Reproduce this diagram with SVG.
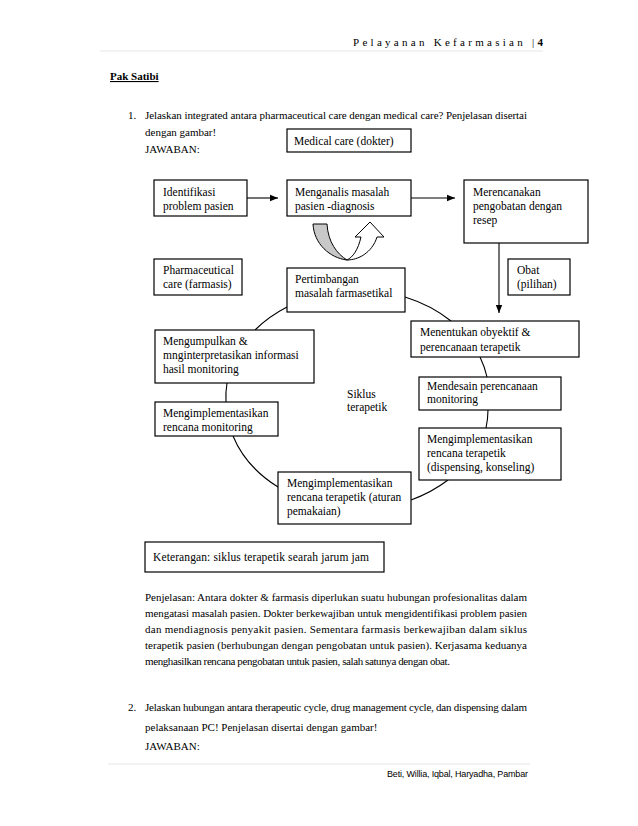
<svg xmlns="http://www.w3.org/2000/svg" width="638" height="826" viewBox="0 0 638 826">
<defs>
<style>
.t{font-family:"Liberation Serif","Times New Roman",serif;font-size:11px;fill:#000}
.b{font-family:"Liberation Serif","Times New Roman",serif;font-size:11.5px;fill:#000}
.box{fill:#fff;stroke:#000;stroke-width:1.2}
.ln{fill:none;stroke:#000;stroke-width:1.1}
.rule{stroke:#e6e6e6;stroke-width:1}
</style>
<marker id="ah" viewBox="0 0 8 8" refX="8" refY="4" markerWidth="8" markerHeight="8" markerUnits="userSpaceOnUse" orient="auto">
<path d="M0,0.8 L8,4 L0,7.2 Z" fill="#000"/>
</marker>
</defs>
<rect width="638" height="826" fill="#fff"/>

<g id="header">
<text class="t" x="353" y="46" textLength="190" lengthAdjust="spacing" fill="#222">Pelayanan Kefarmasian |<tspan font-weight="bold">4</tspan></text>
<line class="rule" x1="100" y1="51" x2="543" y2="51"/>
</g>

<g id="question1">
<text class="t" x="110" y="80" font-weight="bold" text-decoration="underline">Pak Satibi</text>
<text class="t" x="128" y="119">1.</text>
<text class="t" x="145" y="119" textLength="382" lengthAdjust="spacing">Jelaskan integrated antara pharmaceutical care dengan medical care? Penjelasan disertai</text>
<text class="t" x="145" y="136">dengan gambar!</text>
<text class="t" x="145" y="153">JAWABAN:</text>
</g>

<g id="connectors">
<line class="ln" x1="247" y1="198" x2="278" y2="198" marker-end="url(#ah)"/>
<line class="ln" x1="411" y1="198" x2="455" y2="198" marker-end="url(#ah)"/>
<line class="ln" x1="499" y1="243" x2="499" y2="313" marker-end="url(#ah)"/>
<path class="ln" d="M405,297 A134,107 0 0 1 451,321"/>
<path class="ln" d="M480,357 A134,107 0 0 1 487,377"/>
<path class="ln" d="M488,410 A134,107 0 0 1 486,428"/>
<path class="ln" d="M448,480 A134,107 0 0 1 411,500"/>
<path class="ln" d="M278,487 A134,107 0 0 1 233,436"/>
<path class="ln" d="M226,402 A134,107 0 0 1 227,383"/>
<path class="ln" d="M255,330 A134,107 0 0 1 287,307"/>
</g>

<g id="u-arrow">
<path d="M313,224 L327,224 C328,242 337,254 347,260 C330,258 314,244 313,224 Z" fill="#c8c8c8" stroke="#000" stroke-width="1"/>
<path d="M347,260 C358,260 372,253 377,237 L384,237 L370,222 L355,237 L361,237 C358,250 353,257 347,260 Z" fill="#fff" stroke="#000" stroke-width="1"/>
</g>

<g id="n-medical">
<rect class="box" x="287" y="129" width="124" height="23"/>
<text class="b" x="294" y="145">Medical care (dokter)</text>
</g>

<g id="n-identifikasi">
<rect class="box" x="154" y="180" width="93" height="36"/>
<text class="b" x="163" y="196">Identifikasi</text>
<text class="b" x="163" y="210">problem pasien</text>
</g>

<g id="n-menganalis">
<rect class="box" x="287" y="180" width="124" height="36"/>
<text class="b" x="295" y="196">Menganalis masalah</text>
<text class="b" x="295" y="210">pasien -diagnosis</text>
</g>

<g id="n-merencanakan">
<rect class="box" x="464" y="180" width="124" height="63"/>
<text class="b" x="473" y="196">Merencanakan</text>
<text class="b" x="473" y="210">pengobatan dengan</text>
<text class="b" x="473" y="224">resep</text>
</g>

<g id="n-pharmaceutical">
<rect class="box" x="154" y="259" width="88" height="36"/>
<text class="b" x="163" y="274">Pharmaceutical</text>
<text class="b" x="163" y="288">care (farmasis)</text>
</g>

<g id="n-obat">
<rect class="box" x="508" y="259" width="62" height="36"/>
<text class="b" x="517" y="274">Obat</text>
<text class="b" x="517" y="288">(pilihan)</text>
</g>

<g id="n-pertimbangan">
<rect class="box" x="287" y="268" width="118" height="44"/>
<text class="b" x="295" y="283">Pertimbangan</text>
<text class="b" x="295" y="297">masalah farmasetikal</text>
</g>

<g id="n-menentukan">
<rect class="box" x="411" y="321" width="168" height="36"/>
<text class="b" x="420" y="336">Menentukan obyektif &amp;</text>
<text class="b" x="420" y="351">perencanaan terapetik</text>
</g>

<g id="n-mengumpulkan">
<rect class="box" x="155" y="330" width="159" height="53"/>
<text class="b" x="163" y="345">Mengumpulkan &amp;</text>
<text class="b" x="163" y="359">mnginterpretasikan informasi</text>
<text class="b" x="163" y="373">hasil monitoring</text>
</g>

<g id="n-mendesain">
<rect class="box" x="419" y="377" width="142" height="33"/>
<text class="b" x="427" y="390">Mendesain perencanaan</text>
<text class="b" x="427" y="403">monitoring</text>
</g>

<g id="siklus-label">
<text class="b" x="347" y="398">Siklus</text>
<text class="b" x="347" y="411">terapetik</text>
</g>

<g id="n-impl-monitoring">
<rect class="box" x="155" y="402" width="123" height="34"/>
<text class="b" x="163" y="417">Mengimplementasikan</text>
<text class="b" x="163" y="431">rencana monitoring</text>
</g>

<g id="n-impl-dispensing">
<rect class="box" x="419" y="428" width="142" height="52"/>
<text class="b" x="427" y="443">Mengimplementasikan</text>
<text class="b" x="427" y="457">rencana terapetik</text>
<text class="b" x="427" y="471">(dispensing, konseling)</text>
</g>

<g id="n-impl-aturan">
<rect class="box" x="278" y="472" width="133" height="52"/>
<text class="b" x="287" y="487">Mengimplementasikan</text>
<text class="b" x="287" y="501">rencana terapetik (aturan</text>
<text class="b" x="287" y="515">pemakaian)</text>
</g>

<g id="n-keterangan">
<rect class="box" x="145" y="542" width="239" height="30"/>
<text class="b" x="153" y="561" textLength="216" lengthAdjust="spacing">Keterangan: siklus terapetik searah jarum jam</text>
</g>

<g id="penjelasan">
<text class="t" x="145" y="601" textLength="382" lengthAdjust="spacing">Penjelasan: Antara dokter &amp; farmasis diperlukan suatu hubungan profesionalitas dalam</text>
<text class="t" x="145" y="617" textLength="382" lengthAdjust="spacing">mengatasi masalah pasien. Dokter berkewajiban untuk mengidentifikasi problem pasien</text>
<text class="t" x="145" y="633" textLength="382" lengthAdjust="spacing">dan mendiagnosis penyakit pasien. Sementara farmasis berkewajiban dalam siklus</text>
<text class="t" x="145" y="649" textLength="382" lengthAdjust="spacing">terapetik pasien (berhubungan dengan pengobatan untuk pasien). Kerjasama keduanya</text>
<text class="t" x="145" y="665" textLength="305" lengthAdjust="spacing">menghasilkan rencana pengobatan untuk pasien, salah satunya dengan obat.</text>
</g>

<g id="question2">
<text class="t" x="128" y="711">2.</text>
<text class="t" x="145" y="711" textLength="382" lengthAdjust="spacing">Jelaskan hubungan antara therapeutic cycle, drug management cycle, dan dispensing dalam</text>
<text class="t" x="145" y="731">pelaksanaan PC! Penjelasan disertai dengan gambar!</text>
<text class="t" x="145" y="750">JAWABAN:</text>
</g>

<g id="footer">
<line class="rule" x1="108" y1="764" x2="530" y2="764"/>
<text x="387" y="777" font-family="'Liberation Sans',Arial,sans-serif" font-size="9" textLength="141" lengthAdjust="spacing" fill="#000">Beti, Willia, Iqbal, Haryadha, Pambar</text>
</g>
</svg>
